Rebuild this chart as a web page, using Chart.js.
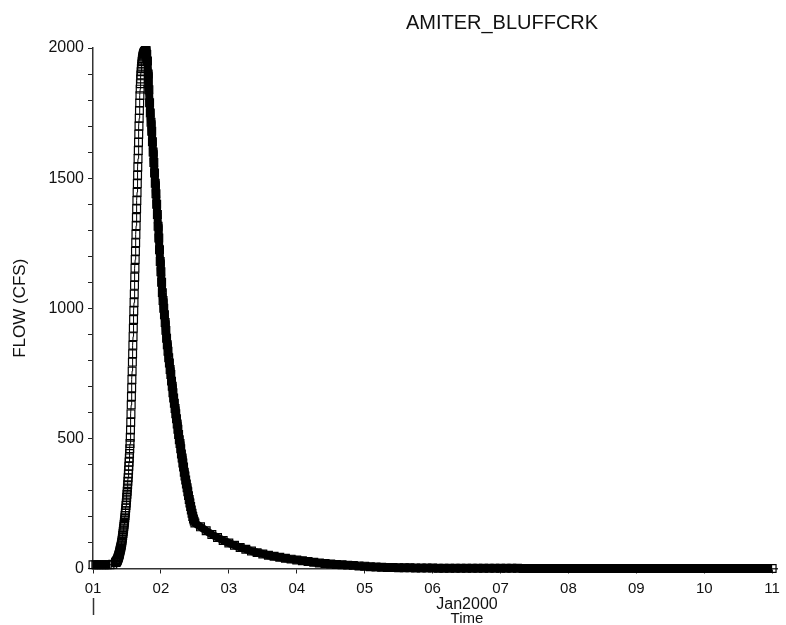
<!DOCTYPE html>
<html>
<head>
<meta charset="utf-8">
<title>AMITER_BLUFFCRK</title>
<script src="https://cdn.jsdelivr.net/npm/chart.js@4.4.1/dist/chart.umd.min.js"></script>
<style>
  html, body { margin: 0; padding: 0; background: #fff; }
  #wrap { width: 786px; height: 625px; }
</style>
</head>
<body>
<div id="wrap"><canvas id="flow-chart" width="786" height="625"></canvas></div>
<script>
'use strict';

// AMITER_BLUFFCRK — flow hydrograph, 01Jan2000 .. 11Jan2000
// Times are hours after 01Jan2000 00:00. Values are read off the plot,
// at a finer step where the single markers can still be told apart.

const TITLE = 'AMITER_BLUFFCRK';
const Y_LABEL = 'FLOW (CFS)';
const X_LABEL_MONTH = 'Jan2000';
const X_LABEL = 'Time';

const dayLabels = ['01', '02', '03', '04', '05', '06', '07', '08', '09', '10', '11'];
const flowTickLabels = [0, 500, 1000, 1500, 2000];

// hourly, 00:00 .. 08:00
const baseFlow = [14, 14, 14, 14, 14, 14, 14, 16, 23];

// 5-minute, 08:05 .. 18:45 (rising limb and peak)
const riseFlow = [
  24, 25, 26, 27, 29, 31, 33, 35, 37, 39, 42, 45, 48, 51, 54, 58, 62, 66, 70, 74, 78, 82, 86, 90,
  95, 101, 107, 113, 120, 127, 134, 141, 148, 155, 162, 170,
  178, 186, 195, 204, 213, 222, 232, 242, 252, 263, 274, 285,
  297, 309, 322, 335, 349, 363, 378, 393, 409, 425, 442, 460,
  480, 504, 532, 562, 594, 628,
  661, 694, 726, 759, 793, 825, 858, 891, 923, 957, 990, 1022,
  1055, 1088, 1120, 1154, 1187, 1219, 1252, 1284, 1317, 1349, 1382, 1414,
  1446, 1479, 1511, 1543, 1575, 1606, 1638, 1669, 1700, 1730, 1760, 1789,
  1817, 1842, 1863, 1881, 1896, 1909, 1920, 1930, 1939, 1947, 1954, 1960, 1965, 1969,
  1973, 1976, 1979, 1981, 1983, 1985, 1986, 1987, 1988, 1989, 1989, 1989, 1989,
];

// 15-minute, 19:00 .. 36:00 (falling limb)
const fallFlow = [
  1975, 1950, 1900, 1840, 1790, 1750, 1715, 1680, 1640, 1600,
  1560, 1520, 1480, 1440, 1400, 1360, 1315, 1270, 1225, 1180,
  1140, 1100, 1060, 1030, 1000, 975, 945, 915, 885, 860,
  835, 810, 790, 765, 745, 720, 700, 675, 655, 635,
  615, 595, 575, 555, 535, 515, 495, 480, 460, 440,
  425, 405, 390, 370, 355, 340, 325, 310, 295, 280,
  265, 252, 238, 225, 212, 200, 190, 182, 175,
];

// 2-hourly, 38:00 .. 240:00 (recession)
const tailFlow = [
  160, 145, 131, 119, 108, 98, 89, 81, 74, 67,
  61, 56, 51, 47, 43, 39, 36, 33, 30, 27,
  24, 21, 19, 17, 15, 14, 13, 12, 10, 9,
  7, 6, 5, 4, 4, 3, 3, 3, 2, 2,
  2, 2, 1, 1, 1, 1, 1, 1, 1, 1,
  1, 1, 1, 1, 1, 1, 1, 0, 0, 0,
  0, 0, 0, 0, 0, 0, 0, 0, 0, 0,
  0, 0, 0, 0, 0, 0, 0, 0, 0, 0,
  0, 0, 0, 0, 0, 0, 0, 0, 0, 0,
  0, 0, 0, 0, 0, 0, 0, 0, 0, 0,
  0, 0,
];

const FONT = '"Liberation Sans", Arial, sans-serif';
const INK = '#111';

function series(startHour, stepHours, values) {
  return values.map((v, i) => ({ x: startHour + i * stepHours, y: v }));
}

const points = [
  ...series(0, 1, baseFlow),
  ...series(8 + 5 / 60, 5 / 60, riseFlow),
  ...series(19, 0.25, fallFlow),
  ...series(38, 2, tailFlow),
];

// title, month/axis caption and the month mark under the first day
const frameText = {
  id: 'frameText',
  afterDraw(chart) {
    const { ctx } = chart;
    const x = chart.scales.x;
    ctx.save();
    ctx.fillStyle = INK;
    ctx.textAlign = 'center';
    ctx.textBaseline = 'middle';
    ctx.font = '20px ' + FONT;
    ctx.fillText(TITLE, 502, 23);
    ctx.font = '16px ' + FONT;
    ctx.fillText(X_LABEL_MONTH, 467, 605);
    ctx.font = '15px ' + FONT;
    ctx.fillText(X_LABEL, 467, 619);
    const x0 = Math.round(x.getPixelForValue(0)) + 0.5;
    ctx.strokeStyle = '#333';
    ctx.lineWidth = 1.5;
    ctx.beginPath();
    ctx.moveTo(x0, 598);
    ctx.lineTo(x0, 615);
    ctx.stroke();
    ctx.restore();
  },
};

new Chart(document.getElementById('flow-chart'), {
  type: 'line',
  data: {
    datasets: [{
      label: TITLE,
      data: points,
      borderColor: '#000',
      borderWidth: 1,
      borderJoinStyle: 'round',
      tension: 0,
      clip: false,
      pointStyle: 'rect',
      pointRadius: 5.5,
      pointBorderWidth: 1.2,
      pointBorderColor: '#000',
      pointBackgroundColor: 'rgba(0,0,0,0)',
      // where the markers crowd together (falling limb, base flow) they merge
      // into one solid band in the source plot
      segment: {
        borderWidth: (c) => (c.p1.parsed.y > c.p0.parsed.y ? 1 : 8),
      },
    }],
  },
  options: {
    responsive: false,
    animation: false,
    events: [],
    layout: { padding: { top: 48, right: 4, bottom: 0, left: 0 } },
    plugins: {
      legend: { display: false },
      tooltip: { enabled: false },
    },
    scales: {
      x: {
        type: 'linear',
        min: 0,
        max: 242,
        afterFit: (s) => { s.height = 56.5; },
        afterBuildTicks: (s) => { s.ticks = dayLabels.map((_, i) => ({ value: i * 24 })); },
        ticks: {
          callback: (v, i) => dayLabels[i],
          autoSkip: false,
          maxRotation: 0,
          padding: 6,
          color: INK,
          font: { family: FONT, size: 15 },
        },
        grid: { drawOnChartArea: false, drawTicks: true, tickLength: 5, tickColor: '#222' },
        border: { color: '#333', width: 1.5 },
      },
      y: {
        min: 0,
        max: 2000,
        afterFit: (s) => { s.width = 93; },
        ticks: {
          stepSize: 100,
          autoSkip: false,
          callback: (v) => (flowTickLabels.includes(v) ? String(v) : ''),
          padding: 4,
          color: INK,
          font: { family: FONT, size: 16 },
        },
        grid: { drawOnChartArea: false, drawTicks: true, tickLength: 5, tickColor: '#222' },
        border: { color: '#333', width: 1.5 },
        title: {
          display: true,
          text: Y_LABEL,
          color: INK,
          font: { family: FONT, size: 17 },
          padding: { top: 10, bottom: 0 },
        },
      },
    },
  },
  plugins: [frameText],
});
</script>
</body>
</html>
